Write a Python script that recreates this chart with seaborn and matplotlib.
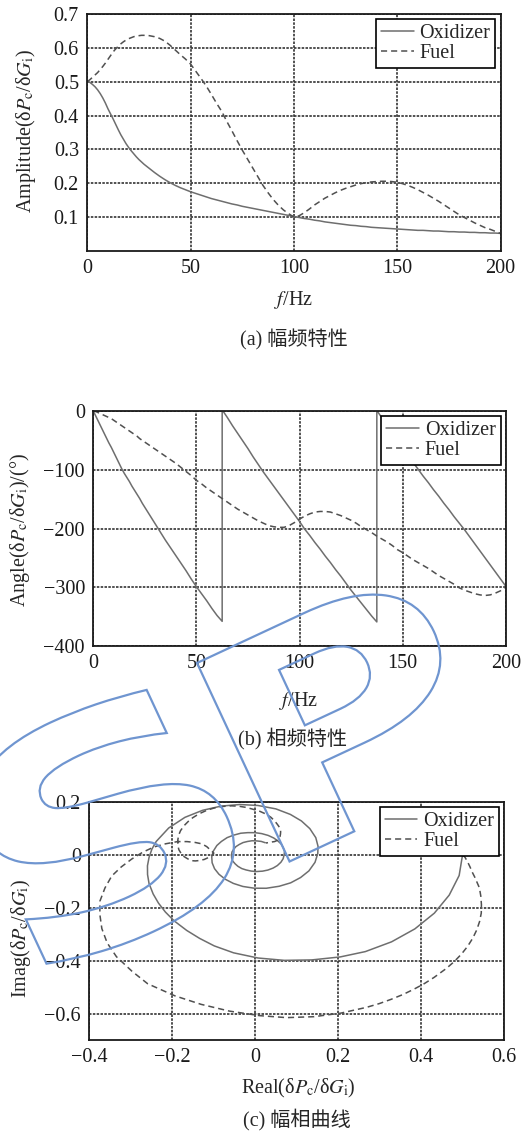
"""
Frequency response of chamber pressure to propellant flow
(a) amplitude, (b) phase, (c) Nyquist curve
"""

import numpy as np
import pandas as pd
import matplotlib
matplotlib.use('Agg')
import matplotlib.pyplot as plt
import seaborn as sns
from matplotlib.ticker import FuncFormatter
from matplotlib.textpath import TextPath
from matplotlib.patches import PathPatch
from matplotlib.font_manager import FontProperties
from matplotlib.transforms import Affine2D

# Sample grid (Hz): read every 1.25 Hz below 30 Hz, every 2.5 Hz above
FREQ_HZ = np.concatenate([np.arange(0, 30, 1.25), np.arange(30, 200.1, 2.5)])

# Amplitude |dPc/dGi|
OX_AMP = [0.500, 0.498, 0.492, 0.485, 0.476, 0.465, 0.452, 0.437, 0.420, 0.405,
          0.390, 0.374, 0.358, 0.343, 0.330, 0.317, 0.306, 0.296, 0.287, 0.278,
          0.270, 0.263, 0.256, 0.250,
          0.244, 0.232, 0.221, 0.211, 0.202, 0.194, 0.187, 0.181,
          0.175, 0.170, 0.165, 0.160, 0.155, 0.151, 0.147, 0.143, 0.139, 0.136,
          0.132, 0.129, 0.126, 0.123, 0.120, 0.117, 0.114, 0.111, 0.108, 0.105,
          0.102, 0.099, 0.096, 0.094, 0.091, 0.089, 0.086, 0.084, 0.082, 0.080,
          0.078, 0.076, 0.075, 0.073, 0.072, 0.070, 0.069, 0.068, 0.067, 0.066,
          0.065, 0.064, 0.063, 0.062, 0.061, 0.061, 0.060, 0.059, 0.059, 0.058,
          0.057, 0.057, 0.056, 0.056, 0.055, 0.055, 0.054, 0.054, 0.053, 0.053,
          0.052]
FUEL_AMP = [0.500, 0.506, 0.513, 0.520, 0.527, 0.536, 0.545, 0.555, 0.566, 0.577,
            0.588, 0.597, 0.605, 0.612, 0.618, 0.623, 0.627, 0.630, 0.633, 0.635,
            0.636, 0.637, 0.637, 0.637,
            0.636, 0.633, 0.628, 0.620, 0.608, 0.594, 0.580, 0.567,
            0.552, 0.531, 0.510, 0.488, 0.463, 0.437, 0.413, 0.383, 0.355, 0.326,
            0.298, 0.272, 0.246, 0.220, 0.194, 0.172, 0.152, 0.135, 0.121, 0.110,
            0.100, 0.104, 0.113, 0.124, 0.136, 0.146, 0.156, 0.164, 0.172, 0.179,
            0.185, 0.190, 0.195, 0.199, 0.202, 0.204, 0.205, 0.206, 0.206, 0.205,
            0.203, 0.199, 0.194, 0.188, 0.181, 0.173, 0.165, 0.156, 0.147, 0.137,
            0.127, 0.117, 0.107, 0.099, 0.091, 0.083, 0.076, 0.069, 0.064, 0.058,
            0.052]

# Phase (deg, unwrapped)
OX_PHASE = [0, -9, -18, -27, -36, -45, -54, -62, -71, -80,
            -89, -98, -106, -113, -120, -128, -135, -142, -149, -157,
            -164, -171, -178, -185,
            -192, -206, -220, -233, -246, -259, -272, -286,
            -299, -311, -323, -336, -348, -358, -371, -385, -398, -411,
            -424, -438, -451, -464, -476, -488, -500, -512, -524, -536,
            -548, -561, -572, -584, -595, -607, -618, -630, -641, -653,
            -665, -676, -687, -698, -709, -719, -732, -744, -757, -769,
            -782, -794, -807, -819, -831, -842, -854, -865, -877, -888,
            -900, -911, -922, -934, -946, -958, -970, -982, -994, -1006,
            -1018]
FUEL_PHASE = [0, -1, -3, -5, -7, -9, -11, -13, -16, -19,
              -22, -25, -28, -31, -34, -37, -40, -43, -47, -50,
              -53, -56, -59, -62,
              -65, -71, -77, -83, -89, -96, -103, -110,
              -118, -124, -131, -137, -143, -149, -155, -161, -167, -172,
              -177, -182, -187, -191, -195, -197, -198, -198, -195, -190,
              -184, -179, -175, -172, -171, -171, -172, -175, -178, -182,
              -186, -191, -197, -202, -207, -213, -218, -223, -229, -236,
              -241, -247, -253, -258, -263, -268, -274, -280, -285, -290,
              -295, -301, -305, -308, -311, -313, -314, -313, -310, -306,
              -300]

SERIES = ['Oxidizer', 'Fuel']
CAPTIONS = ['(a) 幅频特性', '(b) 相频特性', '(c) 幅相曲线']

W, H = 526, 1133
FS = 14.5
OX_STYLE = dict(color='#6e6e6e', linewidth=1.1, linestyle='-')
FUEL_STYLE = dict(color='#505050', linewidth=1.1, linestyle=(0, (4, 2.6)))

sns.set_style('white')
plt.rcParams['font.family'] = ['Liberation Serif', 'Noto Sans CJK SC']
plt.rcParams['mathtext.fontset'] = 'stix'
plt.rcParams['axes.unicode_minus'] = True


def wrap_phase(freq, phase):
    """Wrap to (-360, 0] and keep the vertical jump at each wrap"""
    wrapped = -np.mod(-np.asarray(phase, dtype=float), 360)
    xs, ys = [], []
    for i in range(len(freq)):
        xs.append(freq[i])
        ys.append(wrapped[i])
        if i + 1 < len(freq) and wrapped[i + 1] - wrapped[i] > 180:
            xs.append(freq[i])
            ys.append(wrapped[i] + 360)
    return np.array(xs), np.array(ys)


def tick_fmt(v, pos):
    if abs(v) < 1e-9:
        return '0'
    return ('%g' % round(v, 6)).replace('-', '\u2212')


def px_axes(left, top, right, bottom):
    return fig.add_axes([left / W, 1 - bottom / H, (right - left) / W, (bottom - top) / H])


def put(x, y, s, rot=0):
    fig.text(x / W, 1 - y / H, s, ha='center', va='center', rotation=rot, fontsize=FS)


def style_axes(ax):
    for s in ax.spines.values():
        s.set_linewidth(1.3)
        s.set_color('#1a1a1a')
    ax.grid(True, color='#333333', linestyle=(0, (1.5, 0.8)), linewidth=1.2)
    ax.tick_params(direction='in', length=3, width=1, labelsize=FS, pad=6, colors='#1a1a1a')
    ax.xaxis.set_major_formatter(FuncFormatter(tick_fmt))
    ax.yaxis.set_major_formatter(FuncFormatter(tick_fmt))
    ax.set_xlabel('')
    ax.set_ylabel('')
    leg = ax.legend(loc='upper right', frameon=True, fancybox=False, edgecolor='black',
                    framealpha=1, fontsize=FS, handlelength=1.6, handletextpad=0.3,
                    labelspacing=0.05, borderpad=0.25, borderaxespad=0.25)
    leg.get_frame().set_linewidth(1.2)


fig = plt.figure(figsize=(W / 100, H / 100), dpi=100)

# (a) amplitude
ax_a = px_axes(87.3, 14, 500.5, 251)
sns.lineplot(x=FREQ_HZ, y=OX_AMP, ax=ax_a, label=SERIES[0], sort=False, estimator=None, **OX_STYLE)
sns.lineplot(x=FREQ_HZ, y=FUEL_AMP, ax=ax_a, label=SERIES[1], sort=False, estimator=None, **FUEL_STYLE)
ax_a.set_xlim(0, 200)
ax_a.set_ylim(0, 0.7)
ax_a.set_xticks([0, 50, 100, 150, 200])
ax_a.set_yticks([0.1, 0.2, 0.3, 0.4, 0.5, 0.6, 0.7])
style_axes(ax_a)

# (b) phase
ax_b = px_axes(93.3, 411, 505.7, 646)
fx, fy = wrap_phase(FREQ_HZ, OX_PHASE)
sns.lineplot(x=fx, y=fy, ax=ax_b, label=SERIES[0], sort=False, estimator=None, **OX_STYLE)
fx, fy = wrap_phase(FREQ_HZ, FUEL_PHASE)
sns.lineplot(x=fx, y=fy, ax=ax_b, label=SERIES[1], sort=False, estimator=None, **FUEL_STYLE)
ax_b.set_xlim(0, 200)
ax_b.set_ylim(-400, 0)
ax_b.set_xticks([0, 50, 100, 150, 200])
ax_b.set_yticks([-400, -300, -200, -100, 0])
style_axes(ax_b)

# (c) Nyquist curve from amplitude and phase
ax_c = px_axes(89.3, 802, 504, 1040)
nyq = pd.DataFrame({
    'ox_re': np.array(OX_AMP) * np.cos(np.radians(OX_PHASE)),
    'ox_im': np.array(OX_AMP) * np.sin(np.radians(OX_PHASE)),
    'fu_re': np.array(FUEL_AMP) * np.cos(np.radians(FUEL_PHASE)),
    'fu_im': np.array(FUEL_AMP) * np.sin(np.radians(FUEL_PHASE)),
})
sns.lineplot(data=nyq, x='ox_re', y='ox_im', ax=ax_c, label=SERIES[0], sort=False, estimator=None, **OX_STYLE)
sns.lineplot(data=nyq, x='fu_re', y='fu_im', ax=ax_c, label=SERIES[1], sort=False, estimator=None, **FUEL_STYLE)
ax_c.set_xlim(-0.4, 0.6)
ax_c.set_ylim(-0.7, 0.2)
ax_c.set_xticks([-0.4, -0.2, 0, 0.2, 0.4, 0.6])
ax_c.set_yticks([-0.6, -0.4, -0.2, 0, 0.2])
style_axes(ax_c)

# Axis labels and captions
put(26, 131, r'Amplitude(δ$P_\mathrm{c}$/δ$G_\mathrm{i}$)', rot=90)
put(294, 300, r'$f$/Hz')
put(294, 340, CAPTIONS[0])
put(20, 530, r'Angle(δ$P_\mathrm{c}$/δ$G_\mathrm{i}$)/(°)', rot=90)
put(299, 701, r'$f$/Hz')
put(293, 739, CAPTIONS[1])
put(21, 938, r'Imag(δ$P_\mathrm{c}$/δ$G_\mathrm{i}$)', rot=90)
put(298, 1088, r'Real(δ$P_\mathrm{c}$/δ$G_\mathrm{i}$)')
put(297, 1120, CAPTIONS[2])


# Publisher watermark: outlined tilted "SP"
def watermark_glyph(ch, u0, u1, v0, v1):
    tp = TextPath((0, 0), ch, size=1, prop=FontProperties(family='DejaVu Sans', weight='bold'))
    ext = tp.get_extents()
    tr = (Affine2D().translate(-ext.x0, -ext.y1)
          .scale((u1 - u0) / ext.width, (v1 - v0) / ext.height)
          .translate(u0, -v0)
          .rotate_deg(25)
          .translate(197, H - 663)
          .scale(1 / 100))
    fig.add_artist(PathPatch(tp, transform=tr + fig.dpi_scale_trans, fill=False,
                             edgecolor='#6f95d0', linewidth=1.6, zorder=10))


watermark_glyph('S', -266, -38, -8, 225)
watermark_glyph('P', 0, 228, 0, 219)

fig.savefig('out.png', dpi=100)
